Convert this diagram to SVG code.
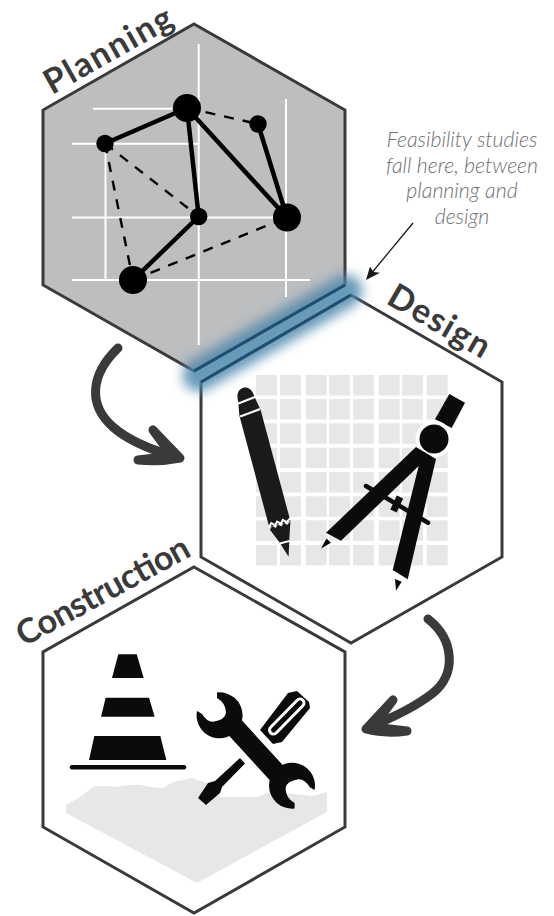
<svg xmlns="http://www.w3.org/2000/svg" width="554" height="916" viewBox="0 0 554 916">
<style>
.hex{stroke:#3a3a3b;stroke-width:3;stroke-linejoin:miter}
.title{font-family:"Lato","Liberation Sans",sans-serif;font-weight:700;fill:#3a3a3b;font-size:34px}
.note{font-family:"Lato","Liberation Sans",sans-serif;font-weight:300;font-style:italic;fill:#6f7072;font-size:21.3px;text-anchor:middle}
.grid{stroke:#fff;stroke-width:2;fill:none}
.solid{stroke:#000;stroke-width:4.5;fill:none}
.dash{stroke:#000;stroke-width:2.4;stroke-dasharray:10 9;fill:none}
.cell{fill:#e6e7e8}
.ink{fill:#0a0b0c}
.flow{stroke:#3a3a3b;fill:none;stroke-width:9;stroke-linecap:round;stroke-linejoin:round}
.flowhead{stroke:#3a3a3b;fill:#3a3a3b;stroke-width:9;stroke-linejoin:round;stroke-linecap:round}
</style>
<defs>
<filter id="soft" x="-20%" y="-60%" width="140%" height="220%"><feGaussianBlur stdDeviation="6"/></filter>
<rect id="c" class="cell" width="21" height="20.5"/>
</defs>
<g id="planning">
<polygon class="hex" fill="#bcbec0" points="194,24 345,110 345,285 194,371 43,285 43,110"/>
<path class="grid" d="M93,108.7H172M72,143.7H198M72,217.5H287M72,280H310M198.7,44V345M286,99V297M105.5,144V280"/>
<path class="dash" d="M187,108L258,124M105,143.5L198.7,216.5M105,143.5L133,280M133,280L287,217.5"/>
<path class="solid" d="M105,143.5L187,108L198.7,216.5L133,280M187,108L287,217.5L258,124"/>
<circle cx="187" cy="108" r="14"/><circle cx="105" cy="143.5" r="8.7"/><circle cx="258" cy="124" r="8.7"/><circle cx="198.7" cy="216.5" r="8.7"/><circle cx="287" cy="217.5" r="14"/><circle cx="133" cy="280" r="14"/>
<text class="title" transform="translate(52,95) rotate(-29.5)" textLength="142">Planning</text>
</g>
<g id="design">
<polygon class="hex" fill="#fff" points="351,295 502,382 502,557 351,643 201,557 201,382"/>
<g id="grid-cells">
<use href="#c" x="256" y="375"/><use href="#c" x="280" y="375"/><use href="#c" x="305.7" y="375"/><use href="#c" x="329" y="375"/><use href="#c" x="353" y="375"/><use href="#c" x="378.7" y="375"/><use href="#c" x="402" y="375"/><use href="#c" x="426.7" y="375"/>
<use href="#c" x="256" y="399"/><use href="#c" x="280" y="399"/><use href="#c" x="305.7" y="399"/><use href="#c" x="329" y="399"/><use href="#c" x="353" y="399"/><use href="#c" x="378.7" y="399"/><use href="#c" x="402" y="399"/><use href="#c" x="426.7" y="399"/>
<use href="#c" x="256" y="423.3"/><use href="#c" x="280" y="423.3"/><use href="#c" x="305.7" y="423.3"/><use href="#c" x="329" y="423.3"/><use href="#c" x="353" y="423.3"/><use href="#c" x="378.7" y="423.3"/><use href="#c" x="402" y="423.3"/><use href="#c" x="426.7" y="423.3"/>
<use href="#c" x="256" y="447.7"/><use href="#c" x="280" y="447.7"/><use href="#c" x="305.7" y="447.7"/><use href="#c" x="329" y="447.7"/><use href="#c" x="353" y="447.7"/><use href="#c" x="378.7" y="447.7"/><use href="#c" x="402" y="447.7"/><use href="#c" x="426.7" y="447.7"/>
<use href="#c" x="256" y="472"/><use href="#c" x="280" y="472"/><use href="#c" x="305.7" y="472"/><use href="#c" x="329" y="472"/><use href="#c" x="353" y="472"/><use href="#c" x="378.7" y="472"/><use href="#c" x="402" y="472"/><use href="#c" x="426.7" y="472"/>
<use href="#c" x="256" y="496.3"/><use href="#c" x="280" y="496.3"/><use href="#c" x="305.7" y="496.3"/><use href="#c" x="329" y="496.3"/><use href="#c" x="353" y="496.3"/><use href="#c" x="378.7" y="496.3"/><use href="#c" x="402" y="496.3"/><use href="#c" x="426.7" y="496.3"/>
<use href="#c" x="256" y="520.3"/><use href="#c" x="280" y="520.3"/><use href="#c" x="305.7" y="520.3"/><use href="#c" x="329" y="520.3"/><use href="#c" x="353" y="520.3"/><use href="#c" x="378.7" y="520.3"/><use href="#c" x="402" y="520.3"/><use href="#c" x="426.7" y="520.3"/>
<use href="#c" x="256" y="545"/><use href="#c" x="280" y="545"/><use href="#c" x="305.7" y="545"/><use href="#c" x="329" y="545"/><use href="#c" x="353" y="545"/><use href="#c" x="378.7" y="545"/><use href="#c" x="402" y="545"/><use href="#c" x="426.7" y="545"/>
</g>
<g id="pencil" transform="translate(243.3,387.7) rotate(-15)">
<path fill="#1a1a1a" d="M-8.5,12 C-8.5,3 -4,0 0,0 C4,0 8.5,3 8.5,12 L11,26 V141 L-11,141 V26 Z"/>
<path d="M-9.5,14 L9.5,12 M-10.5,27 L10.5,25" stroke="#fff" stroke-width="2.2" fill="none"/>
<path fill="none" stroke="#fff" stroke-width="2" d="M-12,142 L-8,138 L-5,141 L-2,138 L1,141 L4,138 L7,141 L12,138"/>
<path fill="#1a1a1a" d="M-11,144 L-8,141 L-5,144 L-2,141 L1,144 L4,141 L7,144 L11,141 L5,159 L-5,159 Z"/>
<path fill="#1a1a1a" d="M-4.4,161 L4.4,161 L0,175 Z"/>
</g>
<g id="compass" class="ink">
<polygon points="449.3,394 465,402.7 451.7,428 435,419.3"/>
<circle cx="434" cy="439" r="18.5" fill="#fff"/>
<polygon points="416,447 326,532.7 341,540.7 418.7,466 392.7,570 407.7,579.3 436,459"/>
<circle cx="434" cy="439" r="14.5"/>
<path d="M366,486L428,522.7" stroke="#0a0b0c" stroke-width="4.5" stroke-linecap="round"/>
<path d="M400,497L393.5,511" stroke="#0a0b0c" stroke-width="7"/>
<polygon points="321,548.5 331,542.7 326.5,538.5"/>
<polygon points="396,590.7 401.7,581.7 395,579"/>
</g>
<text class="title" transform="translate(385,303) rotate(30)" textLength="112">Design</text>
</g>
<g id="construction">
<polygon class="hex" fill="#fff" points="194,567 345,652 345,827 194,913 43,827 43,652"/>
<path fill="#e6e7e8" d="M66,805 L80,797 L93,787 Q105,785 117,787 Q130,784 140,785 Q155,788 163,788 L173,782 L192,778 L207,783 L220,797 L240,797 L257,797 L270,792 L283,793 L313,796 L327,792 V812 L197,883 L66,813 Z"/>
<g id="cone" class="ink">
<polygon points="118.3,654.3 136.7,654.3 143.7,678 112,678"/>
<polygon points="105.7,697.7 149,697.7 154.7,716.7 101,716.7"/>
<polygon points="94.3,736 160.3,736 166.3,760 89,760"/>
<path d="M72,767.3H184" stroke="#0a0b0c" stroke-width="4.5" stroke-linecap="round"/>
</g>
<g id="tools">
<path class="ink" d="M260,730 L288,693 L297,691 L309,702 L310,708 L282,742 L273,744 Z"/>
<path d="M273.5,730 L300,703" stroke="#fff" stroke-width="11" stroke-linecap="round"/>
<path d="M273.5,730 L300,703" stroke="#0a0b0c" stroke-width="5" stroke-linecap="round"/>
<path class="ink" d="M240,758 L245,763.5 L222,787 L220,793 L206,805 L198,798 L208,783 L215,781 Z"/>
<path id="wrench" class="ink" d="M217,692.5 A23,23 0 1 1 197,711 Q199,712 202,714 Q207,722 213,721.7 Q225,720 226,713 Q226,703 217,698 Z M222,728 L236,714 L290,773 L276,787 Z M294.6,808.5 A23,23 0 1 1 314.6,790 Q312.6,789 309.6,787 Q304.6,779 298.6,779.3 Q286.6,781 285.6,788 Q285.6,798 294.6,803 Z"/>
</g>
<text class="title" transform="translate(24,647) rotate(-28.5)" textLength="192">Construction</text>
</g>
<g id="overlap-highlight">
<path d="M199,375L346,291" stroke="#4f88ad" stroke-width="33" stroke-linecap="round" fill="none" filter="url(#soft)" opacity=".85"/>
<path d="M345,285L194,371M201,382L351,295" stroke="#1f4f70" stroke-width="3" fill="none"/>
</g>
<g id="connectors">
<path class="flow" d="M118,348 C90,375 88,405 113,427 C130,442 155,451 176,457"/>
<path class="flowhead" d="M153,430 L180,458 Q160,462 138,460 L172,456 Z"/>
<path class="flow" d="M428,619 C455,640 456,675 433,693 C415,707 395,716 375,725"/>
<path class="flowhead" d="M393,700 L366,729 Q385,734 407,731 L373,727 Z"/>
<path d="M413,223L370,275" stroke="#1a1a1a" stroke-width="1.3" fill="none"/>
<path d="M366,280L370,266.5L373.5,272L380,272.7Z" fill="#1a1a1a"/>
</g>
<g id="note">
<text class="note" x="462" y="147">Feasibility studies</text>
<text class="note" x="462" y="173">fall here, between</text>
<text class="note" x="462" y="198">planning and</text>
<text class="note" x="462" y="224">design</text>
</g>
</svg>
